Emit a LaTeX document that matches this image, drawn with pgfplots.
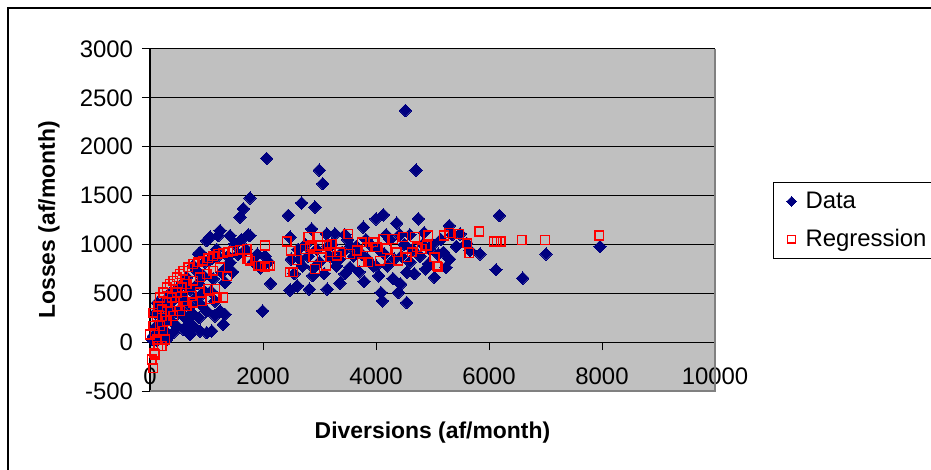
\documentclass[border=0pt]{standalone}
\usepackage{fontspec}
\setmainfont{Liberation Sans}
\usepackage{pgfplots}
\pgfplotsset{compat=1.18}
\definecolor{plotgray}{RGB}{192,192,192}
\definecolor{navy}{RGB}{0,0,128}
\definecolor{framegray}{RGB}{128,128,128}
\pgfplotsset{
  dataleg/.style={legend image code/.code={\path[draw=none] (0bp,0bp) -- (10bp,0bp); \draw[##1, only marks, mark size=1.75bp] plot coordinates {(5bp,0bp)};}},
  regleg/.style={legend image code/.code={\path[draw=none] (0bp,0bp) -- (10bp,0bp); \draw[##1, only marks, mark size=1.9bp] plot coordinates {(5bp,0bp)};}},
}
\begin{document}
\begin{tikzpicture}
\useasboundingbox (0,0) rectangle (465.5bp,235bp);
\draw[black, line width=0.75bp] (4bp,-20bp) -- (4bp,231bp) -- (500bp,231bp);
\begin{axis}[
  at={(75bp,39.5bp)}, anchor=south west,
  scale only axis, width=282.5bp, height=171bp,
  xmin=0, xmax=10000, ymin=-500, ymax=3000,
  axis x line*=middle, axis y line*=left,
  x axis line style={-, black, line width=0.5bp},
  y axis line style={-, black, line width=0.6bp},
  hide obscured x ticks=false, hide obscured y ticks=false,
  scaled x ticks=false, scaled y ticks=false,
  axis background/.style={fill=plotgray},
  xtick={0,2000,4000,6000,8000,10000},
  xticklabels={0,2000,4000,6000,8000,10000},
  ytick={-500,0,500,1000,1500,2000,2500,3000},
  yticklabels={-500,0,500,1000,1500,2000,2500,3000},
  xtick align=outside, ytick align=outside,
  major tick length=4bp,
  tick style={black, line width=0.5bp},
  ymajorgrids, grid style={black, line width=0.5bp},
  tick label style={font=\fontsize{12}{14}\selectfont},
  xticklabel style={yshift=-5.5bp},
  yticklabel style={xshift=-1bp},
  xlabel={Diversions (af/month)},
  ylabel={Losses (af/month)},
  every axis x label/.style={at={(axis description cs:0.5,-0.1228)}, anchor=center, font=\fontsize{11.5}{14}\selectfont\bfseries},
  every axis y label/.style={at={(axis description cs:-0.1788,0.5)}, rotate=90, anchor=center, font=\fontsize{11.5}{14}\selectfont\bfseries},
  legend style={at={(axis description cs:1.1027,0.611)}, anchor=north west,
    draw=black, line width=0.5bp, fill=white, row sep=5bp,
    inner xsep=4bp, inner ysep=2.6bp,
    font=\fontsize{12}{14}\selectfont},
  legend cell align=left,
  clip=false,
]
\addplot[only marks, mark=square*, mark size=2.2bp, mark options={rotate=45, draw=navy, fill=navy, line width=0pt}, dataleg]
coordinates {
(30,28)(59,62)(88,148)(120,20)(150,180)(177,79)(200,260)(236,200)(260,120)(295,28)(300,350)(330,240)(384,285)(400,420)(413,97)(440,180)(472,165)(472,542)(500,300)(531,336)(550,480)(590,131)(590,439)(590,611)(620,250)(649,663)(678,216)(700,560)(708,79)(708,370)(708,542)(740,300)(767,165)(767,782)(800,450)(826,730)(850,600)(855,902)(870,250)(885,113)(885,473)(885,920)(910,380)(944,679)(970,820)(1003,97)(1003,319)(1003,1039)(1032,833)(1062,1074)(1080,520)(1091,113)(1120,650)(1150,268)(1180,950)(1209,1090)(1239,319)(1239,1142)(1269,714)(1297,182)(1327,285)(1327,611)(1380,880)(1416,817)(1416,1090)(1460,720)(1504,1005)(1560,900)(1593,1280)(1620,1050)(1652,1365)(1700,950)(1740,1098)(1770,1475)(1770,1090)(1830,820)(1900,900)(1950,760)(1994,319)(2035,880)(2065,1880)(2100,820)(2135,600)
(100,300)(130,400)(270,430)(350,500)(200,380)(1150,420)(1200,880)(1100,860)(1350,760)(960,520)
(2448,1297)(2478,532)(2478,1074)(2500,850)(2550,700)(2607,576)(2620,950)(2684,1424)(2700,780)(2750,1000)(2800,880)(2820,542)(2861,1159)(2880,680)(2920,1382)(2950,950)(2996,1760)(3000,820)(3056,1622)(3080,700)(3127,1108)(3136,542)(3180,880)(3220,1000)(3274,1108)(3300,780)(3363,604)(3400,920)(3450,700)(3500,1050)(3540,765)(3600,880)(3650,980)(3700,720)(3776,1177)(3788,621)(3850,850)(3900,1000)(3950,780)(4000,1262)(4047,679)(4088,508)(4112,422)(4130,1303)(4150,900)(4200,780)(4250,1050)(4300,650)(4366,1218)(4395,508)(4437,594)(4450,880)(4500,1000)(4520,2370)(4543,405)(4543,714)(4600,820)(4650,950)(4708,1760)(4750,1262)(4780,880)(4830,1000)(4880,750)(4926,800)(4950,950)(5033,663)(5100,900)(5150,1050)(5192,920)(5239,765)(5298,1193)(5350,1100)(5420,980)
(3350,850)(3550,980)(3750,900)(3820,1050)(4050,950)(4180,1100)(4320,850)(4420,1100)(4680,700)(4850,1120)(2650,850)(2900,760)(3150,980)(3250,860)(3450,1100)(4000,780)(4600,1100)(5000,1000)(5300,850)
(5487,1108)(5605,1012)(5664,936)(5841,902)(6124,741)(6183,1296)(6596,655)(7009,902)(7965,977)
};
\addlegendentry{Data}
\addplot[only marks, mark=square, mark size=2.2bp, mark options={draw=red, line width=0.7bp}, regleg]
coordinates {
(0,79)(30,-178)(59,-263)(88,-126)(147,-41)(118,28)(207,-41)(265,28)(236,113)(59,165)(71,-109)
(59,302)(147,370)(177,457)(236,508)(295,560)(354,594)(413,628)(472,663)(531,697)(590,731)(678,765)(767,799)(855,817)(944,833)(1032,858)(1120,879)(1209,902)(1297,912)(1386,926)(1475,936)(1593,946)(1711,954)(2035,988)
(118,268)(207,336)(295,405)(384,457)(472,508)(561,560)(649,594)(767,628)(885,663)(1003,697)(1120,731)(1239,765)(1368,673)
(207,268)(354,319)(472,370)(590,422)(738,473)(885,508)(1032,542)(1150,542)
(88,97)(177,165)(295,216)(413,268)(531,319)(649,370)(767,405)(915,422)(1062,439)(1180,457)(1297,457)
(1711,851)(1770,833)(1917,782)(1960,782)(2035,765)(2094,782)(2124,782)(1740,851)
(2419,1029)(2490,936)(2478,714)(2537,714)(2596,840)(2743,954)(2802,1074)(2832,971)(2861,988)(2891,868)(2920,748)(2979,1074)(3009,988)(3038,868)(3115,782)(3127,988)(3186,920)(3215,1005)(3304,885)(3363,920)(3510,1108)(3540,902)(3658,937)(3746,1022)(3746,817)(3835,971)(3864,817)(3953,1022)(4012,971)(4071,833)(4130,1057)(4189,954)(4248,851)(4307,1057)(4366,920)(4395,833)(4484,1074)(4543,868)(4631,920)(4690,1074)(4720,971)(4808,954)(4896,988)(4926,1091)(5027,868)(5044,868)(5074,782)(5103,772)(5204,1091)(5298,1115)(5475,1108)(5616,1012)(5652,913)(5829,1132)(6089,1029)(6136,1029)(6207,1029)(6578,1046)(6991,1046)(7953,1091)
};
\addlegendentry{Regression}
\draw[framegray, line width=0.75bp] (rel axis cs:0,0) -- (rel axis cs:1,0) -- (rel axis cs:1,1);
\end{axis}
\end{tikzpicture}
\end{document}
